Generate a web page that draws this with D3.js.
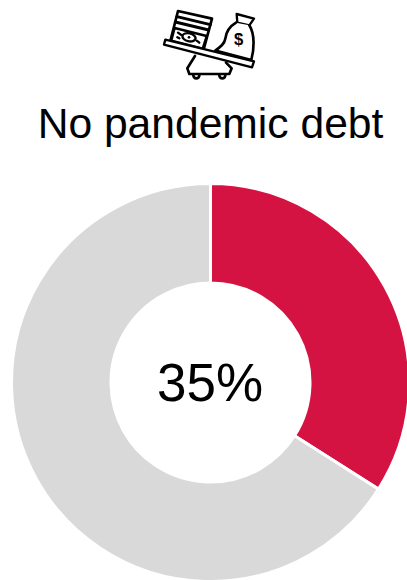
<!DOCTYPE html>
<html><head><meta charset="utf-8">
<script src="https://cdn.jsdelivr.net/npm/d3@7"></script>
<style>html,body{margin:0;padding:0;background:#fff}svg{display:block}</style>
</head><body><svg id="c" width="407" height="580"></svg>
<script>
const categories = ["No pandemic debt", "Other"];
const values = [34, 66];
const colors = ["#d51343", "#d9d9d9"];
const title = "No pandemic debt";
const centerLabel = "35%";

const svg = d3.select("#c");
const cx = 210.5, cy = 382.5, R = 199, r = 99.5;
const color = d3.scaleOrdinal().domain(categories).range(colors);
const pie = d3.pie().sort(null).value(d => d.v);
const arc = d3.arc().innerRadius(r).outerRadius(R);
svg.append("g").attr("transform", `translate(${cx},${cy})`)
  .selectAll("path").data(pie(categories.map((c,i)=>({c,v:values[i]})))).join("path")
  .attr("d", arc).attr("fill", d => color(d.data.c))
  .attr("stroke", "#fff").attr("stroke-width", 3);

svg.append("text").attr("x", 210.5).attr("y", 138).attr("text-anchor","middle")
  .attr("font-family","Liberation Sans").attr("font-size",42.6).attr("fill","#000").text(title);
svg.append("text").attr("x", 210).attr("y", 401).attr("text-anchor","middle")
  .attr("font-family","Liberation Sans").attr("font-size",53).attr("fill","#000").text(centerLabel);

// decorative icon (zoom coordinates: 3x, origin 150,0)
const ic = svg.append("g").attr("transform","translate(150,0) scale(0.3333)")
  .attr("fill","#fff").attr("stroke","#000").attr("stroke-width",8).attr("stroke-linejoin","round").attr("stroke-linecap","round");
// base
ic.append("path").attr("d","M135 168 L112 205 L118 222 L238 222 L245 205 L228 188");
ic.append("path").attr("d","M130 226 a9 9 0 0 0 18 0 M208 226 a9 9 0 0 0 18 0").attr("fill","none");
// bills
ic.append("path").attr("d","M84 33 L186 56 L160 152 L60 127 Z");
ic.append("path").attr("d","M81 50 L181 74 M76 66 L176 90").attr("fill","none").attr("stroke-width",9);
ic.append("path").attr("d","M74 84 L170 108 L158 146 L64 122 Z").attr("stroke-width",7);
ic.append("ellipse").attr("cx",117).attr("cy",112).attr("rx",20).attr("ry",12).attr("transform","rotate(13 117 112)").attr("stroke-width",7);
ic.append("circle").attr("cx",117).attr("cy",112).attr("r",4).attr("fill","#000").attr("stroke","none");
ic.append("path").attr("d","M84 98 l10 7 M148 128 l-8 -6 M82 112 l6 3").attr("fill","none").attr("stroke-width",7);
// bag
ic.append("path").attr("d","M260 42 L312 56 L298 76 L262 68 Z").attr("stroke-width",7);
ic.append("path").attr("d","M258 68 C238 80 228 98 226 116 C224 132 210 142 196 152 L304 180 C312 150 316 104 298 76");
ic.append("text").attr("x",266).attr("y",134).attr("text-anchor","middle").attr("font-family","Liberation Sans").attr("font-weight","bold")
  .attr("font-size",50).attr("fill","#000").attr("stroke","none").text("$");
// beam
ic.append("path").attr("d","M46 119 L312 184 L306 202 L42 134 Z").attr("stroke-width",7);
</script></body></html>
